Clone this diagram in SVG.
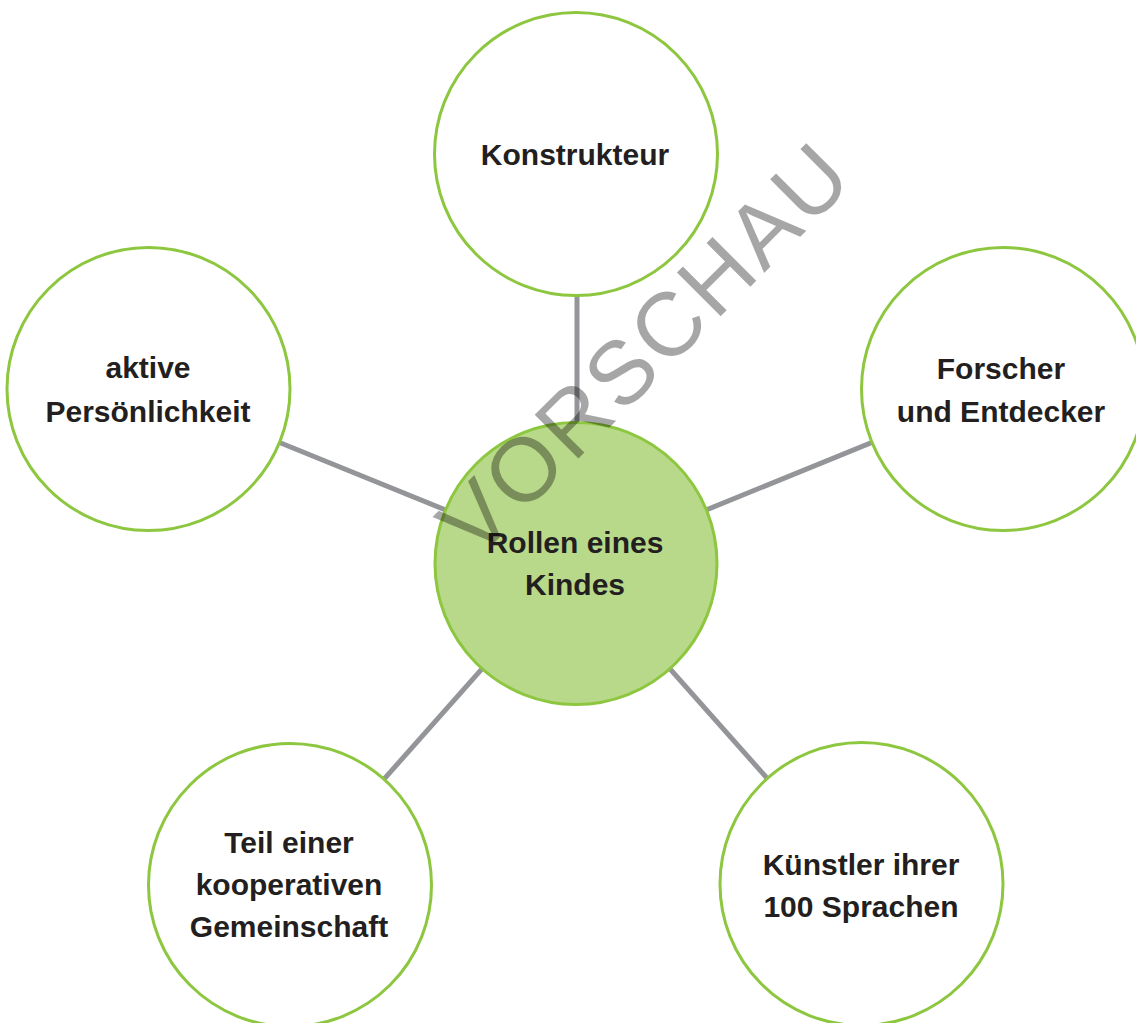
<svg xmlns="http://www.w3.org/2000/svg" width="1136" height="1023" viewBox="0 0 1136 1023">
<style>
.c{fill:#fff;stroke:#8dc63f;stroke-width:3}
.m{fill:#b9d98a;stroke:#8dc63f;stroke-width:3}
.t{font-family:"Liberation Sans",Arial,sans-serif;font-weight:bold;font-size:30px;fill:#231f20;text-anchor:middle}
.l{stroke:#939598;stroke-width:5;fill:none}
.w{font-family:"Liberation Sans",Arial,sans-serif;font-size:90px;letter-spacing:3.7px;fill:#000;fill-opacity:0.35}
</style>
<rect width="1136" height="1023" fill="#fff"/>
<g id="connectors">
<line class="l" x1="577" y1="154" x2="577" y2="563"/>
<line class="l" x1="148" y1="389" x2="576" y2="563"/>
<line class="l" x1="1003" y1="389" x2="576" y2="563"/>
<line class="l" x1="290" y1="885" x2="576" y2="563"/>
<line class="l" x1="861" y1="884" x2="576" y2="563"/>
</g>
<g id="n-konstrukteur">
<circle class="c" cx="576" cy="154" r="141.5"/>
<text class="t" x="575" y="165">Konstrukteur</text>
</g>
<g id="n-aktive">
<circle class="c" cx="148.5" cy="389" r="141.5"/>
<text class="t" x="148" y="378">aktive</text>
<text class="t" x="148" y="422">Persönlichkeit</text>
</g>
<g id="n-forscher">
<circle class="c" cx="1003" cy="389" r="141.5"/>
<text class="t" x="1001" y="379">Forscher</text>
<text class="t" x="1001" y="422">und Entdecker</text>
</g>
<g id="n-teil">
<circle class="c" cx="290" cy="885" r="141.5"/>
<text class="t" x="289" y="853">Teil einer</text>
<text class="t" x="289" y="895">kooperativen</text>
<text class="t" x="289" y="937">Gemeinschaft</text>
</g>
<g id="n-kuenstler">
<circle class="c" cx="861.5" cy="884" r="141.5"/>
<text class="t" x="861" y="875">Künstler ihrer</text>
<text class="t" x="861" y="917">100 Sprachen</text>
</g>
<g id="n-center">
<circle class="m" cx="576" cy="563.5" r="141"/>
<text class="t" x="575" y="553">Rollen eines</text>
<text class="t" x="575" y="595">Kindes</text>
</g>
<text class="w" transform="translate(476,561) rotate(-45)" x="0" y="0">VORSCHAU</text>
</svg>
